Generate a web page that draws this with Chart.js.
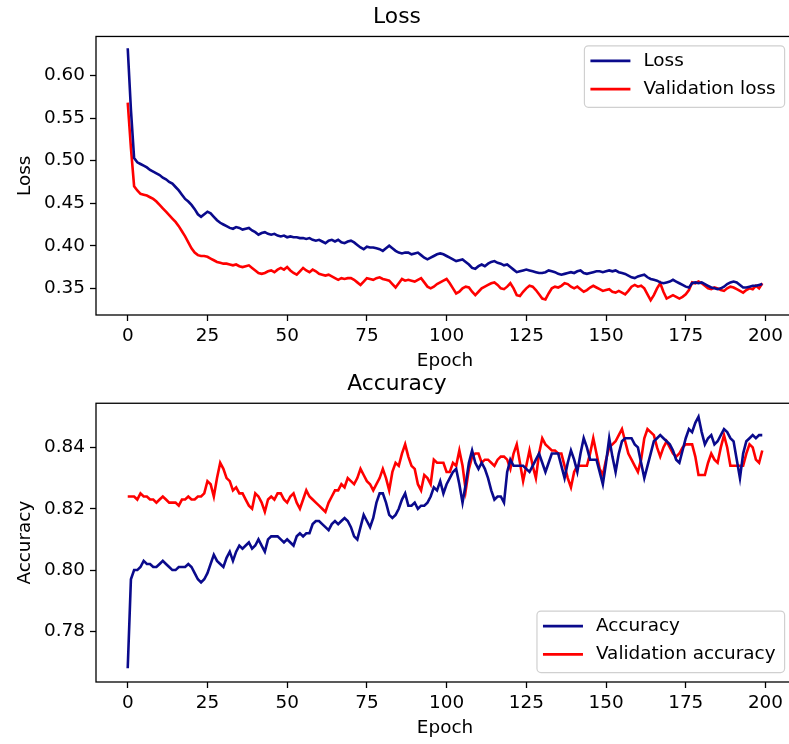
<!DOCTYPE html>
<html>
<head>
<meta charset="utf-8">
<script src="https://cdn.jsdelivr.net/npm/chart.js@4"></script>
<style>
  html, body { margin: 0; padding: 0; background: #fff; overflow: hidden; }
  #wrap { position: relative; width: 789px; height: 744px; overflow: hidden; }
  canvas { position: absolute; left: 0; }
</style>
</head>
<body>
<div id="wrap">
  <canvas id="lossChart" width="800" height="372" style="top:0"></canvas>
  <canvas id="accChart" width="800" height="377" style="top:362px"></canvas>
</div>
<script>
const epochs = Array.from({ length: 200 }, (_, i) => i);

const lossValues = [
  0.632, 0.560, 0.503, 0.498, 0.496, 0.494, 0.492, 0.489, 0.487, 0.485,
  0.483, 0.480, 0.478, 0.475, 0.473, 0.469, 0.465, 0.460, 0.455, 0.452,
  0.448, 0.443, 0.437, 0.434, 0.437, 0.440, 0.438, 0.434, 0.430, 0.427,
  0.425, 0.423, 0.421, 0.420, 0.422, 0.421, 0.419, 0.420, 0.421, 0.418,
  0.416, 0.413, 0.415, 0.416, 0.414, 0.413, 0.414, 0.412, 0.411, 0.412,
  0.410, 0.411, 0.410, 0.410, 0.409, 0.409, 0.408, 0.409, 0.407, 0.406,
  0.407, 0.405, 0.403, 0.406, 0.407, 0.405, 0.407, 0.404, 0.403, 0.405,
  0.406, 0.404, 0.401, 0.398, 0.396, 0.399, 0.398, 0.398, 0.397, 0.396,
  0.394, 0.397, 0.400, 0.397, 0.394, 0.392, 0.391, 0.392, 0.392, 0.390,
  0.391, 0.392, 0.389, 0.386, 0.384, 0.386, 0.388, 0.390, 0.391, 0.390,
  0.388, 0.386, 0.384, 0.382, 0.383, 0.384, 0.381, 0.378, 0.374, 0.373,
  0.376, 0.378, 0.376, 0.379, 0.381, 0.382, 0.380, 0.379, 0.377, 0.378,
  0.375, 0.372, 0.369, 0.370, 0.371, 0.372, 0.371, 0.370, 0.369, 0.368,
  0.368, 0.369, 0.371, 0.370, 0.369, 0.367, 0.366, 0.367, 0.368, 0.369,
  0.368, 0.370, 0.371, 0.368, 0.367, 0.368, 0.369, 0.370, 0.370, 0.369,
  0.370, 0.371, 0.370, 0.371, 0.369, 0.368, 0.367, 0.365, 0.363, 0.362,
  0.364, 0.365, 0.366, 0.363, 0.361, 0.360, 0.359, 0.357, 0.356, 0.357,
  0.358, 0.360, 0.358, 0.356, 0.354, 0.352, 0.351, 0.356, 0.357, 0.356,
  0.357, 0.355, 0.353, 0.351, 0.350, 0.349, 0.350, 0.352, 0.355, 0.357,
  0.358, 0.357, 0.354, 0.351, 0.351, 0.352, 0.353, 0.353, 0.354, 0.355
];

const valLossValues = [
  0.568, 0.515, 0.470, 0.465, 0.461, 0.460, 0.459, 0.457, 0.455, 0.452,
  0.448, 0.444, 0.440, 0.436, 0.432, 0.428, 0.423, 0.417, 0.411, 0.404,
  0.397, 0.392, 0.389, 0.388, 0.388, 0.387, 0.385, 0.383, 0.381, 0.380,
  0.379, 0.379, 0.378, 0.377, 0.378, 0.376, 0.375, 0.376, 0.377, 0.374,
  0.371, 0.368, 0.367, 0.368, 0.370, 0.371, 0.369, 0.372, 0.374, 0.372,
  0.375, 0.371, 0.368, 0.366, 0.370, 0.374, 0.371, 0.369, 0.372, 0.370,
  0.367, 0.366, 0.365, 0.366, 0.364, 0.362, 0.360, 0.362, 0.361, 0.362,
  0.362, 0.360, 0.357, 0.354, 0.358, 0.362, 0.361, 0.360, 0.362, 0.363,
  0.361, 0.360, 0.359, 0.355, 0.351, 0.356, 0.361, 0.359, 0.360, 0.359,
  0.358, 0.360, 0.362, 0.357, 0.352, 0.350, 0.352, 0.355, 0.357, 0.359,
  0.361, 0.356, 0.350, 0.344, 0.346, 0.350, 0.352, 0.351, 0.346, 0.342,
  0.346, 0.350, 0.352, 0.354, 0.356, 0.357, 0.354, 0.350, 0.349, 0.352,
  0.356, 0.350, 0.342, 0.341, 0.346, 0.350, 0.353, 0.352, 0.348, 0.343,
  0.338, 0.337, 0.344, 0.350, 0.352, 0.351, 0.353, 0.356, 0.355, 0.352,
  0.350, 0.352, 0.349, 0.346, 0.348, 0.351, 0.353, 0.351, 0.349, 0.347,
  0.348, 0.349, 0.346, 0.345, 0.347, 0.345, 0.343, 0.347, 0.352, 0.354,
  0.352, 0.353, 0.350, 0.343, 0.336, 0.342, 0.350, 0.356, 0.346, 0.338,
  0.340, 0.342, 0.340, 0.338, 0.340, 0.343, 0.348, 0.357, 0.356, 0.358,
  0.356, 0.353, 0.350, 0.349, 0.351, 0.350, 0.348, 0.347, 0.350, 0.352,
  0.351, 0.349, 0.347, 0.345, 0.348, 0.350, 0.349, 0.353, 0.350, 0.356
];

const accValues = [
  0.768, 0.797, 0.800, 0.800, 0.801, 0.803, 0.802, 0.802, 0.801, 0.801,
  0.802, 0.803, 0.802, 0.801, 0.800, 0.800, 0.801, 0.801, 0.801, 0.802,
  0.801, 0.799, 0.797, 0.796, 0.797, 0.799, 0.802, 0.805, 0.803, 0.802,
  0.801, 0.804, 0.806, 0.803, 0.806, 0.808, 0.807, 0.808, 0.809, 0.807,
  0.808, 0.810, 0.808, 0.806, 0.810, 0.811, 0.811, 0.811, 0.810, 0.809,
  0.810, 0.809, 0.808, 0.811, 0.812, 0.811, 0.812, 0.812, 0.815, 0.816,
  0.816, 0.815, 0.814, 0.813, 0.815, 0.816, 0.815, 0.816, 0.817, 0.816,
  0.814, 0.811, 0.810, 0.814, 0.818, 0.816, 0.814, 0.817, 0.822, 0.825,
  0.825, 0.822, 0.818, 0.817, 0.818, 0.820, 0.823, 0.825, 0.821, 0.821,
  0.822, 0.820, 0.821, 0.821, 0.822, 0.824, 0.827, 0.826, 0.829, 0.825,
  0.828, 0.830, 0.832, 0.833, 0.828, 0.822, 0.828, 0.835, 0.839, 0.835,
  0.833, 0.835, 0.833, 0.830, 0.826, 0.823, 0.824, 0.824, 0.822, 0.832,
  0.836, 0.834, 0.834, 0.834, 0.834, 0.833, 0.832, 0.834, 0.836, 0.838,
  0.835, 0.832, 0.835, 0.838, 0.838, 0.838, 0.834, 0.830, 0.835, 0.839,
  0.836, 0.832, 0.838, 0.843, 0.840, 0.836, 0.836, 0.836, 0.832, 0.828,
  0.835, 0.843, 0.837, 0.832, 0.838, 0.842, 0.843, 0.843, 0.843, 0.841,
  0.840, 0.835, 0.830, 0.834, 0.838, 0.842, 0.843, 0.844, 0.843, 0.842,
  0.841, 0.839, 0.836, 0.835, 0.839, 0.843, 0.846, 0.845, 0.848, 0.850,
  0.845, 0.841, 0.843, 0.844, 0.841, 0.842, 0.844, 0.846, 0.845, 0.843,
  0.842, 0.836, 0.830, 0.838, 0.842, 0.843, 0.844, 0.843, 0.844, 0.844
];

const valAccValues = [
  0.824, 0.824, 0.824, 0.823, 0.825, 0.824, 0.824, 0.823, 0.823, 0.822,
  0.823, 0.824, 0.823, 0.822, 0.822, 0.822, 0.821, 0.823, 0.823, 0.824,
  0.823, 0.823, 0.824, 0.824, 0.825, 0.829, 0.828, 0.824, 0.830, 0.835,
  0.833, 0.830, 0.829, 0.826, 0.827, 0.825, 0.825, 0.823, 0.821, 0.820,
  0.825, 0.824, 0.822, 0.819, 0.823, 0.824, 0.823, 0.825, 0.825, 0.823,
  0.822, 0.824, 0.825, 0.822, 0.820, 0.823, 0.826, 0.824, 0.823, 0.822,
  0.821, 0.820, 0.819, 0.822, 0.824, 0.826, 0.826, 0.828, 0.827, 0.830,
  0.829, 0.828, 0.830, 0.833, 0.831, 0.829, 0.828, 0.826, 0.828, 0.830,
  0.833, 0.830, 0.826, 0.832, 0.835, 0.834, 0.838, 0.841, 0.837, 0.834,
  0.833, 0.828, 0.826, 0.831, 0.830, 0.828, 0.836, 0.835, 0.835, 0.835,
  0.832, 0.832, 0.835, 0.834, 0.839, 0.834, 0.826, 0.833, 0.837, 0.838,
  0.838, 0.835, 0.836, 0.836, 0.835, 0.834, 0.836, 0.837, 0.837, 0.836,
  0.833, 0.838, 0.841, 0.835, 0.829, 0.834, 0.839, 0.834, 0.830, 0.838,
  0.843, 0.841, 0.840, 0.839, 0.839, 0.838, 0.838, 0.834, 0.830, 0.827,
  0.832, 0.834, 0.834, 0.834, 0.834, 0.838, 0.843, 0.838, 0.833, 0.831,
  0.836, 0.840, 0.841, 0.842, 0.844, 0.846, 0.842, 0.838, 0.836, 0.834,
  0.832, 0.836, 0.843, 0.846, 0.845, 0.844, 0.840, 0.837, 0.840, 0.842,
  0.840, 0.838, 0.837, 0.838, 0.840, 0.841, 0.841, 0.841, 0.837, 0.831,
  0.831, 0.831, 0.835, 0.838, 0.836, 0.835, 0.840, 0.844, 0.840, 0.834,
  0.834, 0.834, 0.834, 0.834, 0.838, 0.841, 0.840, 0.836, 0.835, 0.839
];

const epochTicks = [0, 25, 50, 75, 100, 125, 150, 175, 200];
const lossTicks = [0.35, 0.40, 0.45, 0.50, 0.55, 0.60];
const accTicks = [0.78, 0.80, 0.82, 0.84];

const FONT = 'DejaVu Sans';
const BLUE = '#0a0a8c';
const RED = '#ff0000';

// full box around the plot + legend inside the axes (matplotlib style)
const axesPlugin = {
  id: 'axesBox',
  afterDatasetsDraw(chart, args, opts) {
    const { ctx, chartArea: a } = chart;
    ctx.save();
    ctx.strokeStyle = '#000';
    ctx.lineWidth = 1.3;
    ctx.strokeRect(a.left, a.top, a.right - a.left, a.bottom - a.top);

    ctx.font = '18.4px "' + FONT + '"';
    const ds = chart.data.datasets;
    const textW = Math.max(...ds.map(d => ctx.measureText(d.label).width));
    const w = 59 + textW + 9, h = 61.5, pad = 9.4;
    const x = a.right - pad - w;
    const y = opts.corner === 'top' ? a.top + pad : a.bottom - pad - h;
    ctx.beginPath();
    ctx.roundRect(x, y, w, h, 4);
    ctx.fillStyle = 'rgba(255,255,255,0.8)';
    ctx.fill();
    ctx.strokeStyle = '#d0d0d0';
    ctx.lineWidth = 1.2;
    ctx.stroke();
    ds.forEach((d, i) => {
      const ry = y + 15 + i * 28.3;
      ctx.strokeStyle = d.borderColor;
      ctx.lineWidth = d.borderWidth;
      ctx.beginPath();
      ctx.moveTo(x + 6, ry);
      ctx.lineTo(x + 46, ry);
      ctx.stroke();
      ctx.fillStyle = '#000';
      ctx.textBaseline = 'middle';
      ctx.fillText(d.label, x + 59, ry);
    });
    ctx.restore();
  }
};

function makeChart(id, title, yLabel, yMin, yMax, yTicks, series, corner, titlePad) {
  const ctx = document.getElementById(id).getContext('2d');
  return new Chart(ctx, {
    type: 'line',
    data: {
      datasets: series.map(s => ({
        label: s.label,
        data: s.values.map((v, i) => ({ x: epochs[i], y: v })),
        borderColor: s.color,
        backgroundColor: s.color,
        borderWidth: 2.6,
        pointRadius: 0,
        tension: 0,
        fill: false
      }))
    },
    options: {
      responsive: false,
      animation: false,
      devicePixelRatio: 1,
      layout: { padding: { left: 0, right: 6, top: 0, bottom: 0 } },
      plugins: {
        legend: { display: false },
        tooltip: { enabled: false },
        title: {
          display: true,
          text: title,
          color: '#000',
          font: { family: FONT, size: 21.8, weight: 'normal' },
          padding: titlePad
        },
        axesBox: { corner: corner }
      },
      scales: {
        x: {
          type: 'linear',
          min: -9.95,
          max: 208.95,
          afterBuildTicks: s => { s.ticks = epochTicks.map(v => ({ value: v })); },
          afterFit: s => { s.height = 57; },
          grid: { drawOnChartArea: false, drawTicks: true, tickLength: 6, tickColor: '#000', tickWidth: 1.3 },
          border: { display: false },
          ticks: { color: '#000', padding: 4, font: { family: FONT, size: 18.4 }, maxRotation: 0, autoSkip: false },
          title: { display: true, text: 'Epoch', color: '#000', font: { family: FONT, size: 18.4 }, padding: { top: 0, bottom: 0 } }
        },
        y: {
          min: yMin,
          max: yMax,
          afterBuildTicks: s => { s.ticks = yTicks.map(v => ({ value: v })); },
          afterFit: s => { s.width = 96; },
          grid: { drawOnChartArea: false, drawTicks: true, tickLength: 6, tickColor: '#000', tickWidth: 1.3 },
          border: { display: false },
          ticks: { color: '#000', padding: 5, font: { family: FONT, size: 18.4 }, callback: v => Number(v).toFixed(2) },
          title: { display: true, text: yLabel, color: '#000', font: { family: FONT, size: 18.4 }, padding: { top: 14, bottom: 0 } }
        }
      }
    },
    plugins: [axesPlugin]
  });
}

makeChart('lossChart', 'Loss', 'Loss', 0.3187, 0.6458, lossTicks, [
  { label: 'Loss', values: lossValues, color: BLUE },
  { label: 'Validation loss', values: valLossValues, color: RED }
], 'top', { top: 4, bottom: 6.3 });

makeChart('accChart', 'Accuracy', 'Accuracy', 0.7635, 0.8544, accTicks, [
  { label: 'Accuracy', values: accValues, color: BLUE },
  { label: 'Validation accuracy', values: valAccValues, color: RED }
], 'bottom', { top: 8.9, bottom: 6.2 });
</script>
</body>
</html>
